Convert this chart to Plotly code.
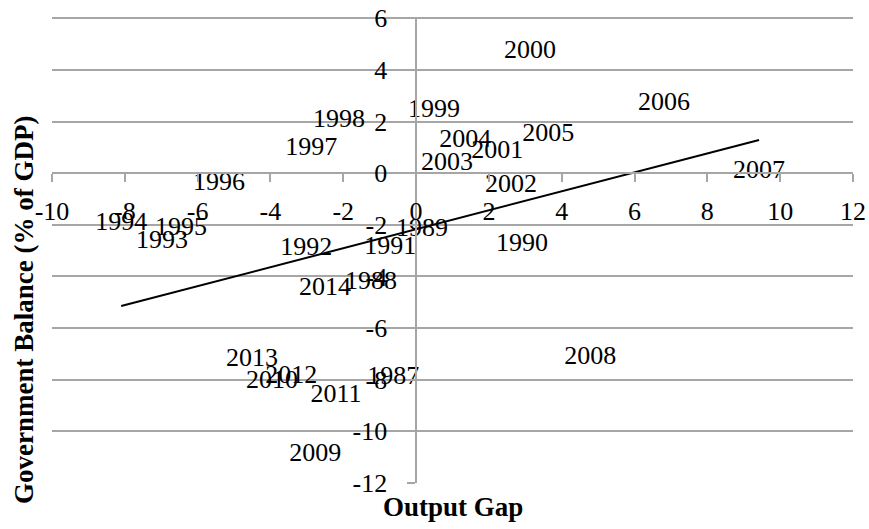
import numpy as np
import plotly.graph_objects as go

years = ["1987", "1988", "1989", "1990", "1991", "1992", "1993", "1994", "1995", "1996",
         "1997", "1998", "1999", "2000", "2001", "2002", "2003", "2004", "2005", "2006",
         "2007", "2008", "2009", "2010", "2011", "2012", "2013", "2014"]
output_gap = [-0.63, -1.24, 0.16, 2.91, -0.71, -3.02, -6.98, -8.10, -6.46, -5.41,
              -2.88, -2.12, 0.49, 3.13, 2.23, 2.61, 0.85, 1.35, 3.63, 6.81,
              9.42, 4.78, -2.77, -3.96, -2.20, -3.43, -4.51, -2.50]
gov_balance = [-7.91, -4.22, -2.17, -2.75, -2.87, -2.91, -2.64, -1.94, -2.13, -0.39,
               0.97, 2.05, 2.44, 4.73, 0.85, -0.47, 0.39, 1.28, 1.51, 2.71,
               0.08, -7.13, -10.90, -8.06, -8.60, -7.87, -7.21, -4.46]
x_ticks = [-10, -8, -6, -4, -2, 0, 2, 4, 6, 8, 10, 12]
y_ticks = [-12, -10, -8, -6, -4, -2, 0, 2, 4, 6]

X_RANGE = [-10, 12]
Y_RANGE = [-12, 6.05]

xs = np.array(output_gap)
ys = np.array(gov_balance)
slope, intercept = np.polyfit(xs, ys, 1)
trend_x = [xs.min(), xs.max()]
trend_y = [slope * v + intercept for v in trend_x]

FONT = "Liberation Serif, Times New Roman, serif"
GRID = "#a6a6a6"

fig = go.Figure()
fig.add_trace(go.Scatter(
    x=trend_x, y=trend_y, mode="lines",
    line=dict(color="black", width=2), hoverinfo="skip", showlegend=False))
fig.add_trace(go.Scatter(
    x=output_gap, y=gov_balance, mode="text", text=years,
    textposition="middle center",
    textfont=dict(family=FONT, size=26, color="black"), showlegend=False))

PLOT_H = 529 - 17 - 46
PLOT_W = 869 - 52 - 16

fig.update_layout(
    width=869, height=529,
    margin=dict(l=52, r=16, t=17, b=46, autoexpand=False),
    paper_bgcolor="white", plot_bgcolor="white",
    font=dict(family=FONT, size=26, color="black"),
    xaxis=dict(
        range=X_RANGE, tickvals=x_ticks, ticktext=[str(v) for v in x_ticks],
        showgrid=False, zeroline=False, automargin=False,
        showline=True, linecolor=GRID, linewidth=2,
        ticks="outside", ticklen=8, tickcolor=GRID, tickwidth=1.5,
        anchor="free", position=(0 - Y_RANGE[0]) / (Y_RANGE[1] - Y_RANGE[0]),
        ticklabelstandoff=7,
        tickfont=dict(family=FONT, size=26, color="black"),
    ),
    yaxis=dict(
        range=Y_RANGE, tickvals=y_ticks, ticktext=[str(v) for v in y_ticks],
        showgrid=True, gridcolor=GRID, gridwidth=2, zeroline=False, automargin=False,
        showline=True, linecolor=GRID, linewidth=1.5,
        ticks="outside", ticklen=8, tickcolor=GRID, tickwidth=1.5,
        anchor="free", position=(0 - X_RANGE[0]) / (X_RANGE[1] - X_RANGE[0]),
        ticklabelstandoff=15,
        tickfont=dict(family=FONT, size=26, color="black"),
    ),
    annotations=[
        dict(text="<b>Output Gap</b>", xref="paper", yref="paper",
             x=0.5, y=-24 / PLOT_H, xanchor="center", yanchor="middle",
             showarrow=False, font=dict(family=FONT, size=27, color="black")),
        dict(text="<b>Government Balance (% of GDP)</b>", xref="paper", yref="paper",
             x=-28 / PLOT_W, y=(483 - 310) / PLOT_H, xanchor="center", yanchor="middle",
             textangle=-90, showarrow=False,
             font=dict(family=FONT, size=27, color="black")),
    ],
)

fig.write_html("out.html", config={"displayModeBar": False},
               post_script="document.body.style.margin='0';document.body.style.padding='0';")
